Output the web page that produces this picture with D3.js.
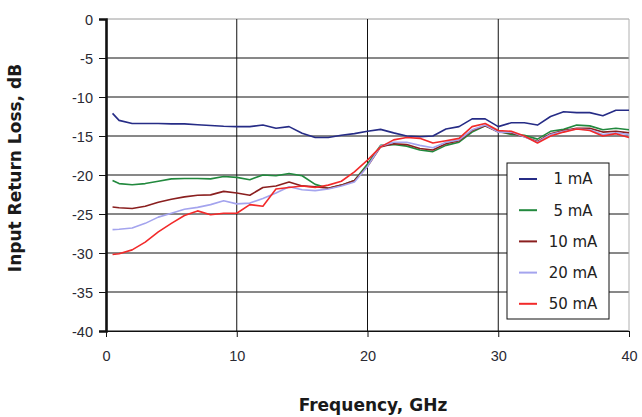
<!DOCTYPE html>
<html>
<head>
<meta charset="utf-8">
<script src="https://cdn.jsdelivr.net/npm/d3@7"></script>
<style>
  body { margin: 0; background: #fff; }
  svg { display: block; font-family: "DejaVu Sans", "Liberation Sans", Arial, sans-serif; }
  .grid line { stroke: #111; stroke-width: 1; }
  .axis text { font-size: 14.5px; fill: #2a2a33; }
  .title { font-size: 17px; font-weight: bold; fill: #1a1a1a; }
  .legend text { font-size: 15px; fill: #222; }
  .line { fill: none; stroke-width: 1.6; stroke-linejoin: round; }
</style>
</head>
<body>
<div id="chart"></div>
<script>
var margin = {top: 19, right: 13, bottom: 86, left: 106},
    width = 642 - margin.left - margin.right,
    height = 417 - margin.top - margin.bottom;

// frequency points, GHz
var freq = [0.5, 1, 2, 3, 4, 5, 6, 7, 8, 9, 10, 11, 12, 13, 14, 15, 16, 17, 18, 19, 20,
            21, 22, 23, 24, 25, 26, 27, 28, 29, 30, 31, 32, 33, 34, 35, 36, 37, 38, 39, 40];

// return loss, dB
var rl1mA = [-12.1, -13.0, -13.4, -13.4, -13.4, -13.45, -13.45, -13.55, -13.65, -13.75, -13.8,
             -13.8, -13.6, -14.0, -13.8, -14.65, -15.2, -15.2, -14.9, -14.7, -14.4,
             -14.15, -14.6, -15.0, -15.1, -15.0, -14.1, -13.8, -12.8, -12.8, -13.8,
             -13.3, -13.3, -13.6, -12.5, -11.9, -12.0, -12.0, -12.4, -11.7, -11.7];
var rl5mA = [-20.7, -21.1, -21.25, -21.1, -20.8, -20.5, -20.45, -20.45, -20.5, -20.2, -20.3,
             -20.6, -20.0, -20.1, -19.8, -20.1, -21.2, -21.7, -21.3, -20.7, -18.6,
             -16.2, -16.1, -16.3, -16.8, -17.0, -16.2, -15.8, -14.5, -13.7, -14.4,
             -14.8, -14.9, -15.4, -14.4, -14.15, -13.6, -13.7, -14.2, -14.0, -14.2];
var rl10mA = [-24.1, -24.2, -24.3, -24.0, -23.5, -23.1, -22.8, -22.6, -22.55, -22.1, -22.3,
              -22.6, -21.6, -21.4, -20.9, -21.4, -21.5, -21.7, -21.3, -20.7, -18.9,
              -16.4, -16.0, -16.1, -16.6, -16.8, -16.0, -15.6, -14.3, -13.7, -14.5,
              -14.6, -15.1, -15.7, -14.7, -14.3, -14.0, -14.0, -14.5, -14.4, -14.6];
var rl20mA = [-27.0, -26.95, -26.8, -26.2, -25.4, -24.9, -24.4, -24.15, -23.8, -23.3, -23.7,
              -23.6, -23.0, -22.3, -21.5, -21.9, -22.0, -21.8, -21.4, -20.9, -18.9,
              -16.3, -15.8, -15.8, -16.2, -16.5, -15.8, -15.5, -14.2, -13.6, -14.5,
              -14.5, -15.1, -15.8, -14.8, -14.4, -14.1, -14.2, -14.8, -14.6, -14.8];
var rl50mA = [-30.2, -30.1, -29.6, -28.6, -27.3, -26.2, -25.2, -24.6, -25.1, -24.9, -24.9,
              -23.8, -24.0, -21.8, -21.6, -21.4, -21.6, -21.3, -20.8, -19.6, -18.1,
              -16.4, -15.5, -15.2, -15.3, -15.9, -15.6, -15.3, -13.8, -13.4, -14.3,
              -14.4, -15.0, -15.9, -15.0, -14.5, -14.1, -14.3, -15.0, -14.7, -15.2];

var seriesNames = ["1 mA", "5 mA", "10 mA", "20 mA", "50 mA"];
var seriesValues = [rl1mA, rl5mA, rl10mA, rl20mA, rl50mA];

var xTicks = [0, 10, 20, 30, 40];
var yTicks = [0, -5, -10, -15, -20, -25, -30, -35, -40];

var color = d3.scaleOrdinal()
    .domain(seriesNames)
    .range(["#262c86", "#22893e", "#8a1f1f", "#a4a4ee", "#f22a2a"]);

var x = d3.scaleLinear()
    .domain([0, 40])
    .range([0, width]);

var y = d3.scaleLinear()
    .domain([-40, 0])
    .range([height, 0]);

var valueLine = d3.line()
    .x(function(d) { return x(d.f); })
    .y(function(d) { return y(d.v); });

// plain hyphen for negatives, like the original
var tickFormat = function(d) { return String(d); };

var svg = d3.select("#chart").append("svg")
    .attr("width", width + margin.left + margin.right)
    .attr("height", height + margin.top + margin.bottom)
    .append("g")
    .attr("transform", "translate(" + margin.left + "," + margin.top + ")");

// horizontal gridlines
svg.append("g")
    .attr("class", "grid")
    .selectAll("line")
    .data(yTicks)
    .enter().append("line")
    .attr("x1", 0)
    .attr("x2", width)
    .attr("y1", function(d) { return y(d); })
    .attr("y2", function(d) { return y(d); })
    .style("stroke", function(d) { return d === 0 ? "#9a9a9a" : null; });

// vertical gridlines
svg.append("g")
    .attr("class", "grid")
    .selectAll("line")
    .data(xTicks.slice(1))
    .enter().append("line")
    .attr("y1", 0)
    .attr("y2", height)
    .attr("x1", function(d) { return x(d); })
    .attr("x2", function(d) { return x(d); })
    .style("stroke", function(d) { return d === 40 ? "#b0b0b0" : null; });

// the curves
seriesNames.forEach(function(name, i) {
    var data = freq.map(function(f, j) { return {f: f, v: seriesValues[i][j]}; });
    svg.append("path")
        .datum(data)
        .attr("class", "line")
        .attr("stroke", color(name))
        .attr("d", valueLine);
});

// Y axis
var yAxis = svg.append("g")
    .attr("class", "y axis")
    .call(d3.axisLeft(y).tickValues(yTicks).tickSize(7).tickPadding(6).tickFormat(tickFormat));
yAxis.select(".domain").attr("stroke", "#111").attr("stroke-width", 2.6);
yAxis.selectAll(".tick line").attr("stroke", "#111");
yAxis.selectAll("text").attr("dy", "0.36em");

// X axis
var xAxis = svg.append("g")
    .attr("class", "x axis")
    .attr("transform", "translate(0," + height + ")")
    .call(d3.axisBottom(x).tickValues(xTicks).tickSize(6).tickPadding(14).tickSizeOuter(0).tickFormat(tickFormat));
xAxis.select(".domain").attr("stroke", "#111").attr("stroke-width", 1.2);
xAxis.selectAll(".tick line").attr("stroke", "#111");

// axis titles
svg.append("text")
    .attr("class", "title")
    .attr("x", 267)
    .attr("y", 392)
    .style("text-anchor", "middle")
    .text("Frequency, GHz");

svg.append("text")
    .attr("class", "title")
    .attr("transform", "translate(-85," + 149 + ") rotate(-90)")
    .style("text-anchor", "middle")
    .text("Input Return Loss, dB");

// legend
var legend = svg.append("g")
    .attr("class", "legend")
    .attr("transform", "translate(401,144)");

legend.append("rect")
    .attr("width", 102)
    .attr("height", 156)
    .attr("fill", "#fff")
    .attr("stroke", "#111")
    .attr("stroke-width", 1);

var item = legend.selectAll(".item")
    .data(seriesNames)
    .enter().append("g")
    .attr("class", "item")
    .attr("transform", function(d, i) { return "translate(0," + (16 + i * 31.2) + ")"; });

item.append("line")
    .attr("x1", 12)
    .attr("x2", 30)
    .attr("stroke", function(d) { return color(d); })
    .attr("stroke-width", 2);

item.append("text")
    .attr("x", 66)
    .attr("dy", "0.36em")
    .style("text-anchor", "middle")
    .text(function(d) { return d; });
</script>
</body>
</html>
